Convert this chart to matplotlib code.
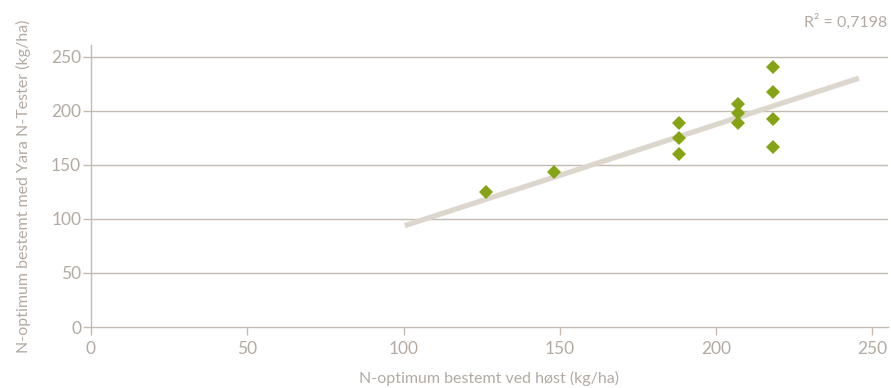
import numpy as np
import matplotlib.pyplot as plt

# Data
harvest_n = [126.5, 148.2, 188.1, 188.1, 188.1, 206.9, 206.9, 206.9, 218.3, 218.3, 218.3, 218.3]
tester_n = [124.7, 143.8, 189.2, 175.0, 160.2, 206.2, 197.9, 188.6, 240.5, 217.6, 192.3, 167.0]
trend_x = [100.4, 245.7]
trend_y = [93.8, 230.3]
r2_label = "R² = 0,7198"
x_ticks = [0, 50, 100, 150, 200, 250]
y_ticks = [0, 50, 100, 150, 200, 250]

text_col = '#b3aba2'
line_col = '#c4bbb1'
green = '#86a315'
trend_col = '#ddd6cd'

plt.rcParams['font.family'] = ['Lato', 'DejaVu Sans']

fig = plt.figure(figsize=(8.91, 3.88), dpi=100)
ax = fig.add_axes([0.1021, 0.1572, 0.8945, 0.7268])

for y in y_ticks[1:]:
    ax.axhline(y, color=line_col, lw=1.0, zorder=0)

ax.plot(trend_x, trend_y, color=trend_col, lw=3.8, solid_capstyle='butt', zorder=1)
ax.plot(harvest_n, tester_n, 'D', color=green, markersize=7.2, markeredgewidth=0, zorder=2)

ax.set_xlim(0, 255)
ax.set_ylim(0, 261)
ax.set_xticks(x_ticks)
ax.set_yticks(y_ticks)

for side in ['top', 'right']:
    ax.spines[side].set_visible(False)
for side in ['left', 'bottom']:
    ax.spines[side].set_color(line_col)
    ax.spines[side].set_linewidth(1.0)

ax.tick_params(axis='both', colors=line_col, labelcolor=text_col, labelsize=12.5,
               length=6, width=1.0, direction='out')
ax.tick_params(axis='x', pad=4)
ax.tick_params(axis='y', pad=1)

ax.set_xlabel('N-optimum bestemt ved høst (kg/ha)', color=text_col, fontsize=11.5, labelpad=10)
ax.set_ylabel('N-optimum bestemt med Yara N-Tester (kg/ha)', color=text_col, fontsize=11.5)
ax.yaxis.set_label_coords(-0.075, 0.5)

fig.text(0.996, 0.945, r2_label, color=text_col, fontsize=11.5, ha='right', va='center')

fig.savefig('out.png', dpi=100)
